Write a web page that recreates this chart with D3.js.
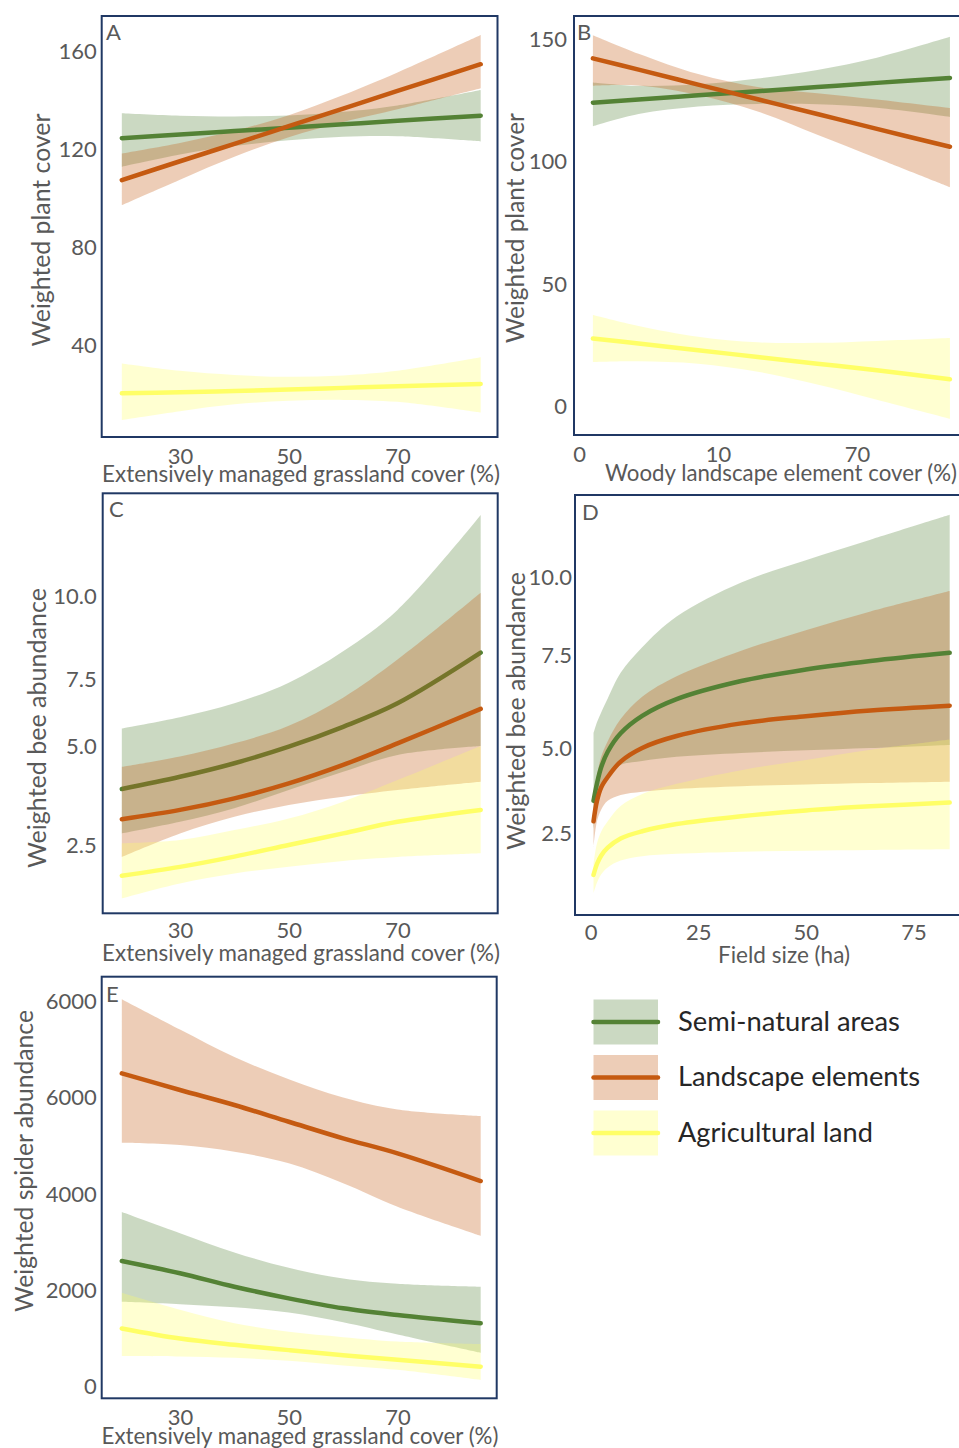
<!DOCTYPE html>
<html>
<head>
<meta charset="utf-8">
<script src="https://cdn.jsdelivr.net/npm/d3@7"></script>
<style>
  body { margin: 0; background: #fff; }
  text { font-family: Lato, "Open Sans", sans-serif; }
</style>
</head>
<body>
<div id="chart"></div>
<script>
// series (same order in every panel)
const seriesNames = ["Semi-natural areas", "Landscape elements", "Agricultural land"];
const lineColors = ["#548235", "#C55A11", "#FFFF66"];

// A: plant cover ~ extensively managed grassland
const aX = [19.3, 30, 40, 50, 60, 70, 85.3];
const aSemiFit = [124.4, 125.9, 127.3, 128.7, 130.1, 131.5, 133.6];
const aSemiLo = [112.8, 117.8, 121.2, 123.6, 125.0, 125.2, 123.1];
const aSemiHi = [134.6, 133.6, 133.3, 133.7, 135.2, 137.8, 144.1];
const aLandFit = [107.3, 115.0, 122.1, 129.3, 136.5, 143.7, 154.6];
const aLandLo = [97.1, 107.5, 116.8, 124.8, 131.0, 136.2, 144.8];
const aLandHi = [118.2, 122.5, 127.4, 133.8, 142.0, 151.2, 166.5];
const aAgriFit = [20.3, 20.7, 21.2, 21.8, 22.5, 23.2, 24.1];
const aAgriLo = [9.4, 13.0, 15.8, 17.2, 17.6, 16.8, 12.4];
const aAgriHi = [32.5, 29.5, 27.8, 27.0, 27.6, 29.5, 35.0];

// B: plant cover ~ woody landscape elements
const bX = [3.5, 15, 30, 45, 60, 75, 93.4];
const bSemiFit = [124.1, 125.4, 127.1, 128.8, 130.5, 132.2, 134.2];
const bSemiLo = [114.5, 119.5, 122.6, 123.6, 123.5, 122.0, 118.3];
const bSemiHi = [132.4, 131.0, 131.6, 134.0, 137.5, 142.5, 151.0];
const bLandFit = [142.2, 137.6, 131.5, 125.5, 119.5, 113.4, 106.1];
const bLandLo = [131.0, 131.1, 127.2, 120.5, 111.0, 101.4, 89.6];
const bLandHi = [151.7, 144.1, 135.8, 130.5, 128.0, 125.4, 121.9];
const bAgriFit = [27.8, 25.7, 23.0, 20.2, 17.5, 14.8, 11.1];
const bAgriLo = [18.2, 18.5, 17.5, 14.2, 9.0, 2.8, -5.0];
const bAgriHi = [37.4, 32.9, 28.5, 26.2, 26.0, 26.8, 28.0];

// C: bee abundance ~ extensively managed grassland
const cX = [19.3, 30, 40, 50, 60, 70, 85.3];
const cSemiFit = [4.19, 4.56, 4.97, 5.47, 6.07, 6.78, 8.31];
const cSemiLo = [2.85, 3.2, 3.61, 4.16, 4.71, 5.22, 5.49];
const cSemiHi = [6.02, 6.36, 6.78, 7.4, 8.35, 9.6, 12.47];
const cLandFit = [3.28, 3.56, 3.91, 4.36, 4.92, 5.57, 6.61];
const cLandLo = [2.14, 2.85, 3.35, 3.71, 3.96, 4.16, 4.41];
const cLandHi = [4.86, 5.17, 5.57, 6.1, 6.95, 8.1, 10.12];
const cAgriFit = [1.57, 1.84, 2.15, 2.5, 2.85, 3.2, 3.56];
const cAgriLo = [0.89, 1.34, 1.64, 1.84, 2.02, 2.14, 2.25];
const cAgriHi = [2.55, 2.65, 2.95, 3.3, 3.81, 4.46, 5.49];

// D: bee abundance ~ field size
const dX = [0.7, 1.5, 2.5, 4, 7, 12, 20, 35, 50, 65, 83.4];
const dSemiFit = [3.45, 3.96, 4.44, 4.89, 5.43, 5.94, 6.43, 6.96, 7.30, 7.55, 7.79];
const dSemiLo = [2.6, 3.3, 3.8, 4.15, 4.5, 4.62, 4.74, 4.85, 4.93, 5.0, 5.09];
const dSemiHi = [5.43, 5.75, 6.05, 6.45, 7.2, 7.95, 8.85, 9.85, 10.5, 11.1, 11.83];
const dLandFit = [2.85, 3.45, 3.85, 4.15, 4.6, 5.0, 5.35, 5.72, 5.93, 6.1, 6.24];
const dLandLo = [2.1, 2.85, 3.2, 3.45, 3.62, 3.72, 3.8, 3.88, 3.93, 3.97, 4.01];
const dLandHi = [3.4, 4.2, 4.75, 5.2, 5.85, 6.5, 7.1, 7.85, 8.45, 9.0, 9.6];
const dAgriFit = [1.28, 1.6, 1.85, 2.08, 2.35, 2.56, 2.77, 3.0, 3.17, 3.29, 3.4];
const dAgriLo = [0.75, 1.05, 1.3, 1.5, 1.7, 1.83, 1.9, 1.96, 1.99, 2.01, 2.03];
const dAgriHi = [1.6, 2.2, 2.55, 2.85, 3.3, 3.65, 3.95, 4.35, 4.65, 4.95, 5.25];

// E: spider abundance ~ extensively managed grassland
const eX = [19.3, 30, 40, 50, 60, 70, 85.3];
const eSemiFit = [2612, 2356, 2078, 1836, 1629, 1490, 1317];
const eSemiLo = [1766, 1715, 1650, 1540, 1340, 1085, 706];
const eSemiHi = [3630, 3190, 2790, 2470, 2250, 2140, 2078];
const eLandFit = [6511, 6165, 5853, 5506, 5161, 4849, 4274];
const eLandLo = [5070, 5022, 4883, 4641, 4226, 3740, 3137];
const eLandHi = [8049, 7420, 6850, 6390, 6010, 5760, 5624];
const eAgriFit = [1210, 1000, 870, 760, 655, 560, 416];
const eAgriLo = [638, 628, 600, 540, 440, 350, 139];
const eAgriHi = [1953, 1600, 1320, 1140, 1030, 940, 887];

// tick values and their printed labels (as they appear in the figure)
const grassTicks = [30, 50, 70];
const grassLabels = ["30", "50", "70"];
const woodyTicks = [0, 35, 70];
const woodyLabels = ["0", "10", "70"];
const fieldTicks = [0, 25, 50, 75];
const fieldLabels = ["0", "25", "50", "75"];
const aYTicks = [40, 80, 120, 160];
const aYLabels = ["40", "80", "120", "160"];
const bYTicks = [0, 50, 100, 150];
const bYLabels = ["0", "50", "100", "150"];
const cYTicks = [2.5, 5.47, 7.5, 10];
const cYLabels = ["2.5", "5.0", "7.5", "10.0"];
const dYTicks = [2.5, 5.0, 7.72, 10];
const dYLabels = ["2.5", "5.0", "7.5", "10.0"];
const eYTicks = [0, 2000, 4000, 6000, 8000];
const eYLabels = ["0", "2000", "4000", "6000", "6000"];

const grassTitle = "Extensively managed grassland cover (%)";

const panels = [
  { letter: "A", x: aX, fit: [aSemiFit, aLandFit, aAgriFit], lo: [aSemiLo, aLandLo, aAgriLo], hi: [aSemiHi, aLandHi, aAgriHi],
    frame: [101.7, 16, 497.5, 437], xd: [30, 70], xr: [180, 397.5], yd: [40, 160], yr: [345, 51],
    xt: grassTicks, xl: grassLabels, yt: aYTicks, yl: aYLabels, xPad: 11, yPad: 5,
    xTitle: grassTitle, xTitlePos: [301, 481.5, 398], yTitle: "Weighted plant cover", yTitlePos: [41, 230, 233],
    letterPos: [106, 40], stacked: false },
  { letter: "B", x: bX, fit: [bSemiFit, bLandFit, bAgriFit], lo: [bSemiLo, bLandLo, bAgriLo], hi: [bSemiHi, bLandHi, bAgriHi],
    frame: [574, 16, 962, 435], xd: [0, 70], xr: [579, 857], yd: [0, 150], yr: [406.5, 39.3],
    xt: woodyTicks, xl: woodyLabels, yt: bYTicks, yl: bYLabels, xPad: 11, yPad: 7,
    xTitle: "Woody landscape element cover (%)", xTitlePos: [781, 480.5, 352], yTitle: "Weighted plant cover", yTitlePos: [515.8, 228, 230],
    letterPos: [577, 40], stacked: false },
  { letter: "C", x: cX, fit: [cSemiFit, cLandFit, cAgriFit], lo: [cSemiLo, cLandLo, cAgriLo], hi: [cSemiHi, cLandHi, cAgriHi],
    frame: [102.7, 493.3, 497.7, 913.3], xd: [30, 70], xr: [180, 397.5], yd: [2.5, 10], yr: [845, 596.7],
    xt: grassTicks, xl: grassLabels, yt: cYTicks, yl: cYLabels, xPad: 9, yPad: 6,
    xTitle: grassTitle, xTitlePos: [301, 960.5, 398], yTitle: "Weighted bee abundance", yTitlePos: [37.5, 728, 280],
    letterPos: [109, 517], stacked: true },
  { letter: "D", x: dX, fit: [dSemiFit, dLandFit, dAgriFit], lo: [dSemiLo, dLandLo, dAgriLo], hi: [dSemiHi, dLandHi, dAgriHi],
    frame: [575, 495, 962, 915], xd: [0, 75], xr: [590.5, 913.5], yd: [2.5, 10], yr: [833.3, 577.3],
    xt: fieldTicks, xl: fieldLabels, yt: dYTicks, yl: dYLabels, xPad: 9, yPad: 3,
    xTitle: "Field size (ha)", xTitlePos: [784, 963, 132], yTitle: "Weighted bee abundance", yTitlePos: [516.7, 711, 278],
    letterPos: [582, 520], stacked: false },
  { letter: "E", x: eX, fit: [eSemiFit, eLandFit, eAgriFit], lo: [eSemiLo, eLandLo, eAgriLo], hi: [eSemiHi, eLandHi, eAgriHi],
    frame: [101.7, 976.7, 496.7, 1398.3], xd: [30, 70], xr: [180, 397.5], yd: [0, 8000], yr: [1386.7, 1001.7],
    xt: grassTicks, xl: grassLabels, yt: eYTicks, yl: eYLabels, xPad: 11, yPad: 5,
    xTitle: grassTitle, xTitlePos: [300, 1443.5, 397], yTitle: "Weighted spider abundance", yTitlePos: [24.2, 1161, 302],
    letterPos: [106, 1002], stacked: false }
];

const textGrey = "#595959";
const frameColor = "#203864";
const tickSize = 22;

const svg = d3.select("#chart").append("svg")
  .attr("width", 959)
  .attr("height", 1448);

svg.append("rect").attr("width", 959).attr("height", 1448).attr("fill", "#fff");

// scale a text's font size so it spans the given width
function fitText(t, w) {
  const len = t.node().getComputedTextLength();
  const fs = parseFloat(t.attr("font-size"));
  t.attr("font-size", (fs * w / len).toFixed(2));
}

panels.forEach(p => {
  const [x0, y0, x1, y1] = p.frame;
  const x = d3.scaleLinear().domain(p.xd).range(p.xr);
  const y = d3.scaleLinear().domain(p.yd).range(p.yr);
  const g = svg.append("g");

  const area = d3.area()
    .curve(d3.curveCatmullRom.alpha(0.5))
    .x(d => x(d.x))
    .y0(d => y(d.lo))
    .y1(d => y(d.hi));
  const line = d3.line()
    .curve(d3.curveCatmullRom.alpha(0.5))
    .x(d => x(d.x))
    .y(d => y(d.fit));

  const rows = p.fit.map((f, s) => p.x.map((xv, i) => ({ x: xv, fit: f[i], lo: p.lo[s][i], hi: p.hi[s][i] })));

  const drawBand = s => g.append("path")
    .attr("d", area(rows[s]))
    .attr("fill", lineColors[s])
    .attr("fill-opacity", 0.3);
  const drawLine = s => g.append("path")
    .attr("d", line(rows[s]))
    .attr("fill", "none")
    .attr("stroke", lineColors[s])
    .attr("stroke-width", 4.5)
    .attr("stroke-linecap", "round");

  if (p.stacked) {
    rows.forEach((r, s) => { drawBand(s); drawLine(s); });
  } else {
    rows.forEach((r, s) => drawBand(s));
    rows.forEach((r, s) => drawLine(s));
  }

  g.append("rect")
    .attr("x", x0).attr("y", y0)
    .attr("width", x1 - x0).attr("height", y1 - y0)
    .attr("fill", "none")
    .attr("stroke", frameColor)
    .attr("stroke-width", 2);

  const xAxis = d3.axisBottom(x)
    .tickValues(p.xt)
    .tickFormat((d, i) => p.xl[i])
    .tickSize(0)
    .tickPadding(p.xPad);
  const gx = g.append("g")
    .attr("transform", "translate(0," + y1 + ")")
    .call(xAxis);

  const yAxis = d3.axisLeft(y)
    .tickValues(p.yt)
    .tickFormat((d, i) => p.yl[i])
    .tickSize(0)
    .tickPadding(p.yPad);
  const gy = g.append("g")
    .attr("transform", "translate(" + x0 + ",0)")
    .call(yAxis);

  [gx, gy].forEach(a => {
    a.select(".domain").remove();
    a.attr("font-family", "Lato, 'Open Sans', sans-serif")
      .attr("font-size", tickSize);
    a.selectAll("text").attr("fill", textGrey);
  });

  const xt = g.append("text")
    .attr("x", p.xTitlePos[0])
    .attr("y", p.xTitlePos[1])
    .attr("text-anchor", "middle")
    .attr("font-size", 20)
    .attr("fill", textGrey)
    .text(p.xTitle);
  fitText(xt, p.xTitlePos[2]);

  const yt = g.append("text")
    .attr("transform", "translate(" + p.yTitlePos[0] + "," + p.yTitlePos[1] + ") rotate(-90)")
    .attr("text-anchor", "middle")
    .attr("dy", "0.35em")
    .attr("font-size", 20)
    .attr("fill", textGrey)
    .text(p.yTitle);
  fitText(yt, p.yTitlePos[2]);

  g.append("text")
    .attr("x", p.letterPos[0])
    .attr("y", p.letterPos[1])
    .attr("font-size", 22)
    .attr("fill", textGrey)
    .text(p.letter);
});

// legend
const legendY = d3.scalePoint().domain(seriesNames).range([1022, 1133]);
const legendWidths = [222, 242, 195];
const legend = svg.append("g");
seriesNames.forEach((name, s) => {
  const cy = legendY(name);
  legend.append("rect")
    .attr("x", 593.5).attr("y", cy - 22.5)
    .attr("width", 64.5).attr("height", 45)
    .attr("fill", lineColors[s])
    .attr("fill-opacity", 0.3);
  legend.append("line")
    .attr("x1", 593.5).attr("x2", 658)
    .attr("y1", cy).attr("y2", cy)
    .attr("stroke", lineColors[s])
    .attr("stroke-width", 4.5)
    .attr("stroke-linecap", "round");
  const t = legend.append("text")
    .attr("x", 678)
    .attr("y", cy + 8.5)
    .attr("font-size", 24)
    .attr("fill", "#262626")
    .text(name);
  fitText(t, legendWidths[s]);
});
</script>
</body>
</html>
